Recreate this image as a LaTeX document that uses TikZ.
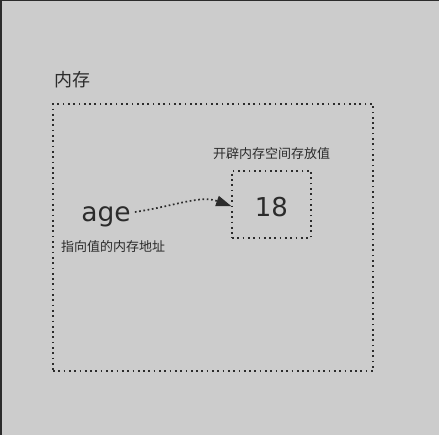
\documentclass[tikz,border=0pt]{standalone}
\usepackage{fontspec}
\setmainfont{DejaVu Sans}
\newfontfamily\cjk{Noto Sans CJK SC}
\usetikzlibrary{arrows.meta}
\definecolor{bg}{HTML}{CCCCCC}
\definecolor{ink}{HTML}{2B2B2B}
\tikzset{
  dotbox/.style={draw=ink, line width=1.7pt, dash pattern=on 1.7pt off 3.6pt, inner sep=0pt},
  lbl/.style={text=ink, inner sep=0pt},
  conn/.style={draw=ink, line width=1.7pt, dash pattern=on 1.7pt off 2.6pt,
    -{Triangle[length=15pt,width=11pt,fill=ink,line width=0pt]}, shorten >=0pt}
}
\begin{document}
\begin{tikzpicture}[x=1pt,y=-1pt]
\fill[bg] (0,0) rectangle (439,435);
\useasboundingbox (0,0) rectangle (439,435);
\draw[ink, line width=2pt] (1,435) -- (1,0.5) -- (439,0.5);
\node[dotbox, minimum width=320pt, minimum height=267pt] (mem) at (213,237.5) {};
\node[dotbox, minimum width=79pt, minimum height=67pt] (val) at (271.5,204.5) {};
\node[lbl, font=\fontsize{26}{26}\selectfont] (num) at (271.5,207) {18};
\node[lbl, font=\cjk\fontsize{18}{18}\selectfont, anchor=west] (memlbl) at (54,80) {内存};
\node[lbl, font=\cjk\fontsize{13}{13}\selectfont] (vallbl) at (271.5,154) {开辟内存空间存放值};
\node[lbl, font=\fontsize{26.5}{26.5}\selectfont, inner xsep=4pt] (age) at (106,217) {age};
\node[lbl, font=\cjk\fontsize{13}{13}\selectfont, anchor=west] (agelbl) at (61,247) {指向值的内存地址};
\draw[conn] (age.east |- 0,212) .. controls (175,206) and (200,195) .. (val.west |- 0,206);
\end{tikzpicture}
\end{document}
